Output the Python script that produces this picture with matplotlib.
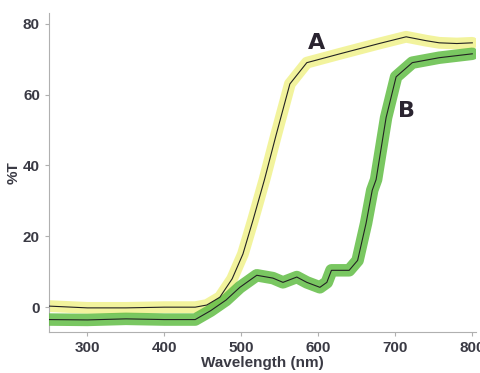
import matplotlib
matplotlib.use("Agg")
import matplotlib.pyplot as plt

# curve A (black trace with yellow highlight)
wl_a = [250, 300, 350, 400, 440, 455, 472, 488, 502, 515, 530, 545, 563, 585,
        628, 679, 714, 740, 757, 780, 800]
t_a = [0.3, -0.2, -0.2, 0.0, 0.0, 0.6, 2.8, 8.0, 15.0, 24.5, 36.0, 48.5, 63.0,
       69.0, 71.5, 74.4, 76.3, 75.2, 74.6, 74.4, 74.6]

# curve B (black trace with green highlight)
wl_b = [250, 300, 350, 400, 440, 460, 480, 498, 520, 541, 554, 572, 585, 602,
        611, 617, 640, 651, 662, 670, 675, 688, 701, 722, 757, 800]
t_b = [-3.5, -3.6, -3.3, -3.5, -3.5, -1.0, 2.0, 5.6, 9.0, 8.2, 7.0, 8.5, 7.0,
       5.6, 7.0, 10.4, 10.4, 13.2, 23.7, 33.0, 36.0, 53.5, 65.0, 69.0, 70.4, 71.5]

XTICKS = [300, 400, 500, 600, 700, 800]
YTICKS = [0, 20, 40, 60, 80]

plt.rcParams["font.family"] = ["Liberation Sans", "DejaVu Sans"]

fig = plt.figure(figsize=(4.8, 3.73), dpi=100)
ax = fig.add_axes([0.102, 0.11, 0.89, 0.855])

ax.plot(wl_a, t_a, color="#f0f28c", lw=8.5, alpha=0.85, solid_capstyle="round", zorder=2)
ax.plot(wl_b, t_b, color="#62bd45", lw=9, alpha=0.85, solid_capstyle="round", zorder=3)
ax.plot(wl_a, t_a, color="#222222", lw=0.8, zorder=4)
ax.plot(wl_b, t_b, color="#222222", lw=0.8, zorder=4)

ax.text(598, 74.6, "A", fontsize=16, fontweight="bold", color="#2a2430",
        family="DejaVu Sans", ha="center", va="center")
ax.text(714, 55.5, "B", fontsize=16, fontweight="bold", color="#2a2430",
        family="DejaVu Sans", ha="center", va="center")

ax.set_xlim(250, 805)
ax.set_ylim(-7, 83)
ax.set_xticks(XTICKS)
ax.set_yticks(YTICKS)
for s in ["top", "right"]:
    ax.spines[s].set_visible(False)
for s in ["left", "bottom"]:
    ax.spines[s].set_color("#b0b0b0")
ax.tick_params(colors="#b0b0b0", length=3, labelcolor="#3a3a44", labelsize=11)
for lbl in ax.get_xticklabels() + ax.get_yticklabels():
    lbl.set_fontweight("bold")
ax.set_xlabel("Wavelength (nm)", fontsize=11, fontweight="bold", color="#3a3a44", labelpad=1)
ax.set_ylabel("%T", fontsize=11, fontweight="bold", color="#3a3a44", labelpad=2)

fig.savefig("out.png", dpi=100)
